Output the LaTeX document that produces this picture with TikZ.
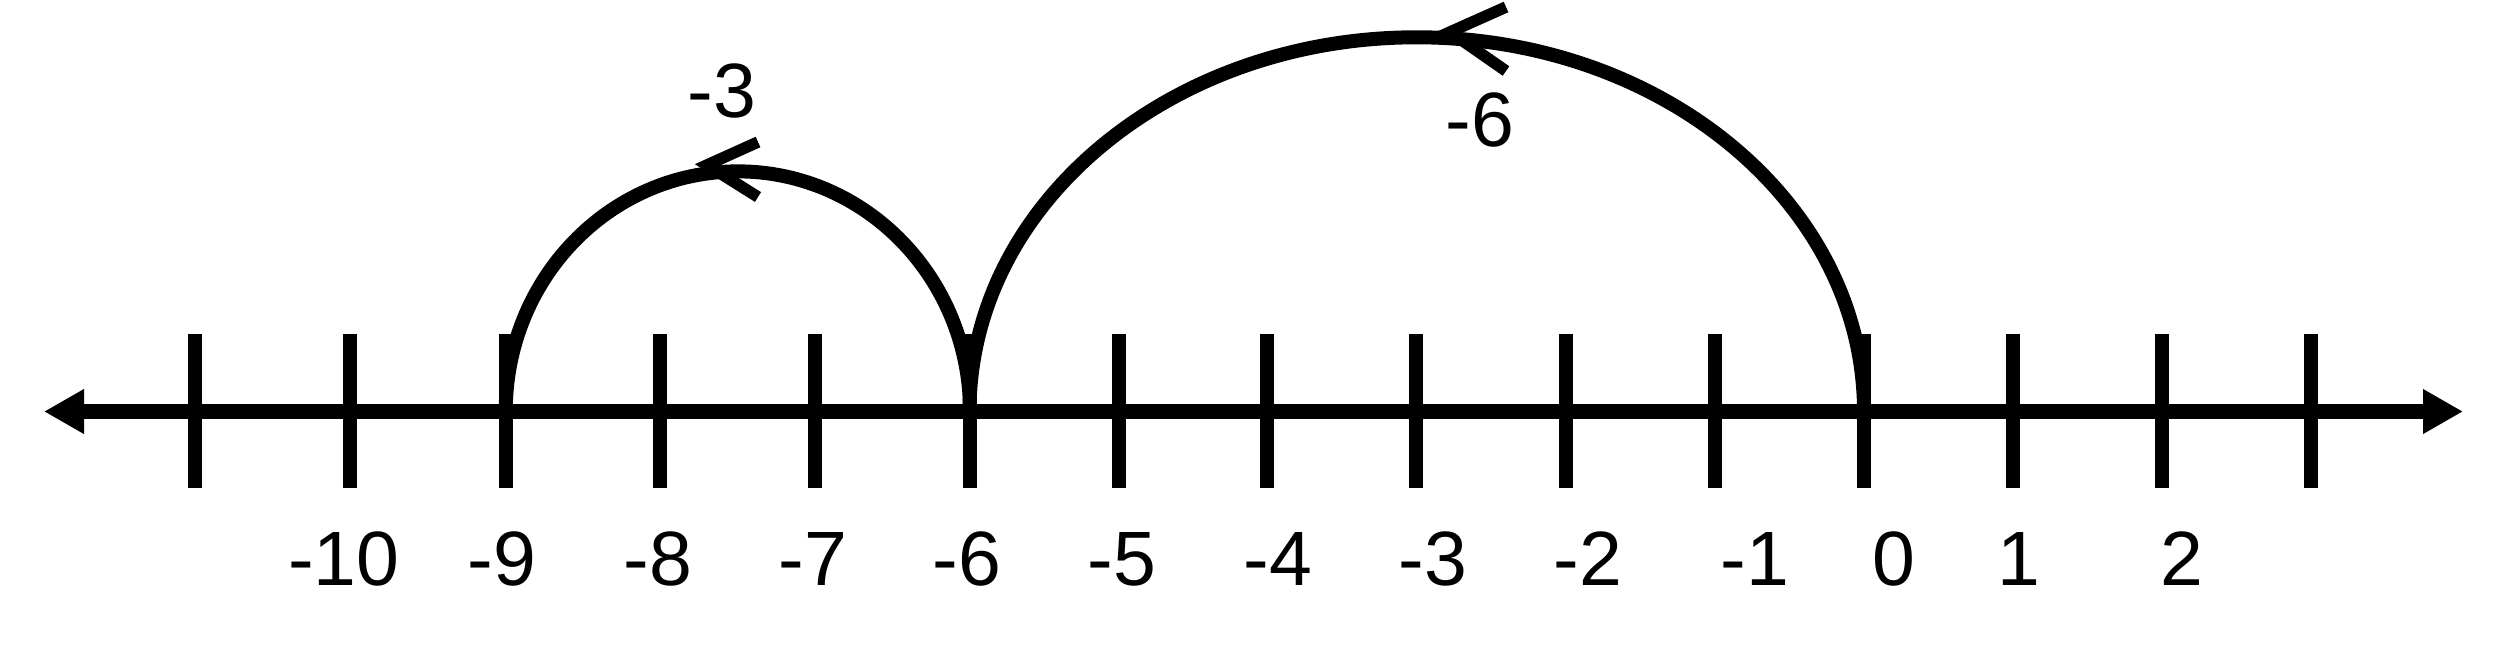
\documentclass[tikz,border=0pt]{standalone}
\usepackage{fontspec}
\setmainfont{Liberation Sans}
\usetikzlibrary{arrows.meta}
\begin{document}
\begin{tikzpicture}[x=0.01cm,y=-0.01cm,
  axisline/.style={line width=0.145cm},
  tickmark/.style={line width=0.14cm},
  jump/.style={line width=0.14cm},
  chevron/.style={line width=0.115cm, line cap=butt, line join=miter},
  lbl/.style={font=\fontsize{21.9pt}{26pt}\selectfont, anchor=base, inner sep=0pt},
]
\useasboundingbox (0,0) rectangle (2507,657);
\coordinate (L) at (44,411.5);
\coordinate (R) at (2463,411.5);
\draw[axisline, {Triangle[length=0.4cm,width=0.42cm]}-{Triangle[length=0.4cm,width=0.42cm]}] (L) -- (R);
\foreach \n/\x in {m11/195, m10/350, m9/506, m8/660, m7/815, m6/970, m5/1119, m4/1267, m3/1416, m2/1566, m1/1715, z0/1864, p1/2013, p2/2162, p3/2311}{
  \coordinate (t\n) at (\x,411.5);
  \draw[tickmark] (\x,334) -- (\x,488);
}
\foreach \n/\x/\t in {m10/344/-10, m9/502/-9, m8/658/-8, m7/813/-7, m6/967/-6, m5/1122/-5, m4/1278/-4, m3/1433/-3, m2/1588/-2, m1/1755/-1, z0/1894/0, p1/2019/1, p2/2182/2}{
  \node[lbl] (l\n) at (\x,585) {\t};
}
% jumps
\draw[jump] (tm6) arc[start angle=0, end angle=180, x radius=2.32cm, y radius=2.40cm];
\draw[jump] (tz0) arc[start angle=0, end angle=180, x radius=4.47cm, y radius=3.74cm];
% chevrons
\coordinate (c1) at (707,165);
\coordinate (c1a) at (758,142);
\coordinate (c1b) at (758,197);
\draw[chevron] (c1a) -- (c1) -- (c1b);
\coordinate (c2) at (1450,32);
\coordinate (c2a) at (1506,7);
\coordinate (c2b) at (1506,71);
\draw[chevron] (c2a) -- (c2) -- (c2b);
% jump labels
\node[lbl] (j3) at (722,117) {-3};
\node[lbl] (j6) at (1480,146) {-6};
\end{tikzpicture}
\end{document}
